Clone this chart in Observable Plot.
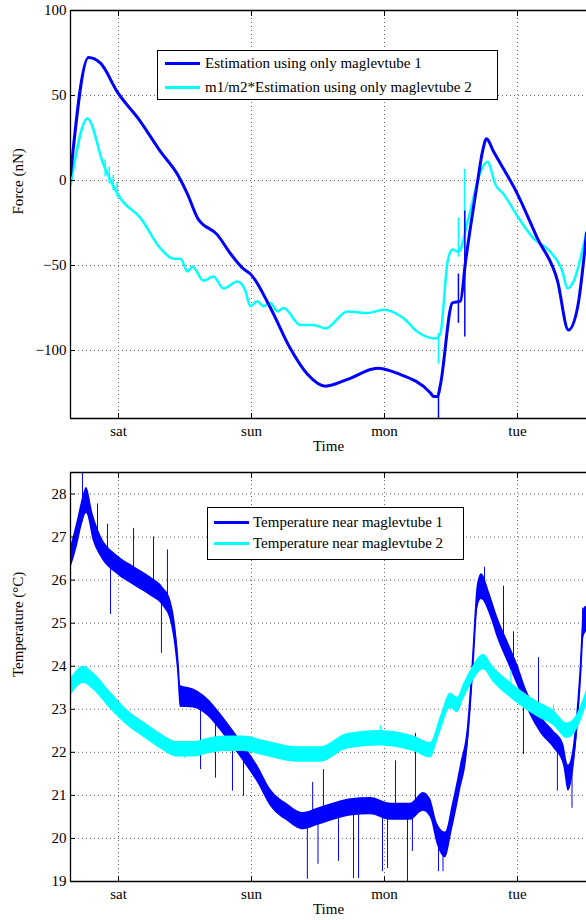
<!DOCTYPE html>
<html><head><meta charset="utf-8">
<script src="https://cdn.jsdelivr.net/npm/d3@7"></script>
<script src="https://cdn.jsdelivr.net/npm/@observablehq/plot@0.6"></script>
<style>
body{margin:0;background:#fff;}
#wrap{position:relative;width:586px;height:920px;font-family:"Liberation Serif","Times New Roman",serif;overflow:hidden;}
#wrap svg{display:block;}
.legend{position:absolute;background:#fff;border:1px solid #000;box-sizing:border-box;}
.legend .sw{position:absolute;height:3px;}
.legend .lab{position:absolute;font-size:15px;white-space:nowrap;line-height:20px;color:#000;}
</style></head><body><div id="wrap"></div><script>
// ---------- data ----------
const dayTicks = [1, 2, 3, 4];
const dayLabels = ["sat", "sun", "mon", "tue"];
const xDomain = [0.639, 4.519];

const forceTicks = [-100, -50, 0, 50, 100];
const forceDomain = [-140, 100];
const tempTicks = [19, 20, 21, 22, 23, 24, 25, 26, 27, 28];
const tempDomain = [19, 28.5];

const forceSeries = ["Estimation using only maglevtube 1", "m1/m2*Estimation using only maglevtube 2"];
const tempSeries = ["Temperature near maglevtube 1", "Temperature near maglevtube 2"];

// force, maglevtube 1 (blue)
const forceDays1 = [0.639,0.774,0.865,0.992,1.165,1.316,1.444,1.519,1.594,1.744,1.842,1.940,1.992,2.143,2.293,2.421,2.556,2.722,2.947,3.098,3.346,3.368,3.40,3.421,3.511,3.571,3.609,3.699,3.737,3.767,3.820,4.0,4.150,4.301,4.383,4.451,4.519];
const force1 = [3,72.4,69,52,34.7,17,3.5,-8,-22,-32,-43,-52,-55,-75,-99,-114,-121,-117,-110.5,-113.5,-125,-127,-127,-120,-72,-71,-48,-1,17,24.5,17,-8,-34,-59,-88,-75,-31];
const forceSpikeDays1 = [3.406, 3.556, 3.604];
const forceSpikeLo1 = [-140, -84, -92];
const forceSpikeHi1 = [-125, -55, -18];

// force, maglevtube 2 (cyan)
const forceDays2 = [0.639,0.767,0.887,1.015,1.165,1.316,1.414,1.466,1.519,1.556,1.639,1.714,1.789,1.895,1.955,1.99,2.045,2.090,2.143,2.195,2.241,2.368,2.466,2.556,2.722,2.872,2.992,3.143,3.248,3.383,3.42,3.474,3.511,3.556,3.632,3.722,3.774,3.835,3.895,4.0,4.120,4.248,4.338,4.376,4.421,4.519];
const force2 = [-3,36.5,9.4,-10.6,-22,-40,-46,-46,-53.5,-50.6,-59,-56.5,-63.5,-59.4,-65,-74,-71,-74,-72,-77,-75,-85,-85,-87,-77,-78,-76,-81,-89,-93,-90,-48,-40.6,-42,-22,5,11,-2.5,-8,-21,-34,-42,-53.5,-63.5,-59.4,-30];
const forceSpikeDays2 = [0.90, 0.93, 0.96, 0.99, 3.406, 3.556, 3.602];
const forceSpikeLo2 = [2, -2, -6, -10, -108, -45, -40];
const forceSpikeHi2 = [12, 8, 3, -1, -90, -22, 6.5];

// temperature near maglevtube 1 (blue)
const tempDays1 = [0.639,0.692,0.729,0.759,0.812,0.865,0.992,1.113,1.241,1.338,1.391,1.444,1.466,1.564,1.669,1.767,1.865,1.970,2.045,2.143,2.271,2.391,2.496,2.594,2.744,2.895,3.045,3.195,3.293,3.346,3.398,3.459,3.511,3.571,3.624,3.662,3.699,3.729,3.797,3.850,3.925,4.0,4.075,4.173,4.271,4.346,4.383,4.421,4.474,4.496,4.519];
const temp1 = [26.5,27.1,27.6,27.85,27.2,26.8,26.35,26.1,25.85,25.6,25.3,24.2,23.3,23.25,23.05,22.7,22.3,21.85,21.5,20.95,20.6,20.4,20.5,20.6,20.72,20.75,20.62,20.62,20.85,20.7,20.1,19.85,20.5,21.4,22.3,23.9,25.6,25.85,25.4,24.9,24.35,23.8,23.2,22.65,22.3,21.95,21.4,21.85,23.8,24.97,25.1];
const temp1Spread = [0.25,0.3,0.3,0.3,0.3,0.25,0.22,0.22,0.22,0.22,0.25,0.3,0.25,0.22,0.2,0.2,0.2,0.2,0.2,0.2,0.2,0.2,0.2,0.2,0.2,0.2,0.2,0.2,0.22,0.22,0.25,0.3,0.3,0.3,0.3,0.3,0.3,0.3,0.25,0.25,0.25,0.25,0.2,0.2,0.2,0.25,0.3,0.3,0.3,0.35,0.3];
const tempSpikeDays1 = [0.639,0.729,0.842,0.917,0.94,1.113,1.263,1.323,1.368,1.617,1.729,1.857,1.94,2.42,2.46,2.5,2.541,2.654,2.767,2.805,2.985,3.023,3.083,3.173,3.21,3.233,3.406,3.44,3.752,3.895,3.97,4.045,4.158,4.30,4.41,4.49];
const tempSpikeLo1 = [25.4,27.6,27.0,26.6,25.2,26.1,25.85,24.3,25.5,21.6,21.4,21.1,20.98,19.05,20.4,19.4,20.5,19.47,19.07,19.07,19.23,19.3,20.6,19.0,19.7,20.8,19.23,19.23,25.8,24.4,24.0,21.95,22.6,21.1,20.7,24.8];
const tempSpikeHi1 = [26.5,28.5,27.77,27.3,26.5,27.2,27.0,25.6,26.7,23.1,22.8,22.3,22.0,20.4,21.3,20.5,21.6,20.65,20.7,20.7,20.65,20.6,21.8,20.6,20.6,22.44,20.1,19.9,26.3,25.86,24.8,23.4,24.2,22.2,21.7,25.35];

// temperature near maglevtube 2 (cyan)
const tempDays2 = [0.639,0.737,0.812,0.940,1.068,1.188,1.316,1.444,1.564,1.692,1.820,1.940,2.090,2.346,2.519,2.722,2.970,3.218,3.346,3.421,3.496,3.549,3.594,3.647,3.744,3.820,3.925,4.023,4.150,4.271,4.376,4.451,4.519];
const temp2 = [23.5,23.8,23.65,23.2,22.8,22.53,22.26,22.07,22.07,22.16,22.2,22.2,22.1,21.95,21.95,22.26,22.33,22.2,22.05,22.65,23.2,23.1,23.4,23.72,24.1,23.8,23.5,23.26,23.0,22.8,22.5,22.72,23.26];
const temp2Spread = [0.2,0.2,0.2,0.2,0.18,0.18,0.18,0.18,0.18,0.18,0.18,0.18,0.18,0.18,0.18,0.18,0.18,0.18,0.18,0.18,0.18,0.18,0.18,0.18,0.18,0.18,0.18,0.18,0.18,0.18,0.18,0.18,0.18];
const tempSpikeDays2 = [1.50, 2.97, 3.95, 4.27];
const tempSpikeLo2 = [21.85, 22.2, 23.3, 22.7];
const tempSpikeHi2 = [22.2, 22.62, 23.9, 23.1];

// ---------- helpers ----------
const BLUE = "#0000ff", CYAN = "#00ffff";
const FONT = '"Liberation Serif", "Times New Roman", serif';
const rows = (xs, ys, ss) => xs.map((d, i) => ({d, v: ys[i], s: ss ? ss[i] : 0}));
const spikes = (xs, lo, hi) => xs.map((d, i) => ({d, lo: lo[i], hi: hi[i]}));
const fmtNum = v => v < 0 ? "\u2212" + Math.abs(v) : String(v);

function panel({yDomain, yTicks, yLabel, marks, height, marginTop, marginBottom}) {
  return Plot.plot({
    width: 586, height, marginTop, marginBottom, marginLeft: 70, marginRight: 0,
    style: {fontFamily: FONT, fontSize: "15px", background: "#fff", color: "#000"},
    x: {domain: xDomain},
    y: {domain: yDomain},
    marks: [
      Plot.gridX(dayTicks, {stroke: "#666", strokeOpacity: 1, strokeDasharray: "1,3"}),
      Plot.gridY(yTicks, {stroke: "#666", strokeOpacity: 1, strokeDasharray: "1,3"}),
      ...marks,
      Plot.ruleX([xDomain[0]], {stroke: "#000", strokeWidth: 1.3}),
      Plot.ruleY(yDomain, {stroke: "#000", strokeWidth: 1.3}),
      Plot.axisX(dayTicks, {anchor: "bottom", tickSize: -5, tickPadding: 12, tickFormat: d => dayLabels[dayTicks.indexOf(d)], label: null}),
      Plot.axisX(dayTicks, {anchor: "top", tickSize: -5, tickFormat: () => "", label: null}),
      Plot.axisY(yTicks, {anchor: "left", tickSize: -5, tickPadding: 9, tickFormat: fmtNum, label: null}),
      Plot.text([yLabel], {text: d => d, frameAnchor: "left", dx: -52, rotate: -90}),
      Plot.text(["Time"], {text: d => d, frameAnchor: "bottom", dy: 32})
    ]
  });
}

const f1 = rows(forceDays1, force1), f2 = rows(forceDays2, force2);
const t1 = rows(tempDays1, temp1, temp1Spread), t2 = rows(tempDays2, temp2, temp2Spread);
const CURVE = "monotone-x";

const forceChart = panel({
  yDomain: forceDomain, yTicks: forceTicks, yLabel: "Force (nN)",
  height: 460, marginTop: 10, marginBottom: 42,
  marks: [
    Plot.line(f2, {x: "d", y: "v", stroke: CYAN, strokeWidth: 2.5, curve: CURVE, clip: true}),
    Plot.ruleX(spikes(forceSpikeDays2, forceSpikeLo2, forceSpikeHi2), {x: "d", y1: "lo", y2: "hi", stroke: CYAN, strokeWidth: 1.5, clip: true}),
    Plot.line(f1, {x: "d", y: "v", stroke: BLUE, strokeWidth: 3, curve: CURVE, clip: true}),
    Plot.ruleX(spikes(forceSpikeDays1, forceSpikeLo1, forceSpikeHi1), {x: "d", y1: "lo", y2: "hi", stroke: BLUE, strokeWidth: 1.5, clip: true})
  ]
});

const tempChart = panel({
  yDomain: tempDomain, yTicks: tempTicks, yLabel: "Temperature (\u00b0C)",
  height: 460, marginTop: 12, marginBottom: 39,
  marks: [
    Plot.areaY(t1, {x: "d", y1: d => d.v - d.s, y2: d => d.v + d.s, fill: BLUE, curve: CURVE, clip: true}),
    Plot.line(t1, {x: "d", y: "v", stroke: BLUE, strokeWidth: 1.5, curve: CURVE, clip: true}),
    Plot.ruleX(spikes(tempSpikeDays1, tempSpikeLo1, tempSpikeHi1), {x: "d", y1: "lo", y2: "hi", stroke: BLUE, strokeWidth: 1, clip: true}),
    Plot.areaY(t2, {x: "d", y1: d => d.v - d.s, y2: d => d.v + d.s, fill: CYAN, curve: CURVE, clip: true}),
    Plot.line(t2, {x: "d", y: "v", stroke: CYAN, strokeWidth: 1.5, curve: CURVE, clip: true}),
    Plot.ruleX(spikes(tempSpikeDays2, tempSpikeLo2, tempSpikeHi2), {x: "d", y1: "lo", y2: "hi", stroke: CYAN, strokeWidth: 1, clip: true})
  ]
});

const wrap = document.getElementById("wrap");
wrap.appendChild(forceChart);
wrap.appendChild(tempChart);

function legend({left, topPx, width, height, rowYs, swLeft, swWidth, labLeft, names, colors}) {
  const box = document.createElement("div");
  box.className = "legend";
  Object.assign(box.style, {left: left + "px", top: topPx + "px", width: width + "px", height: height + "px"});
  names.forEach((name, i) => {
    const sw = document.createElement("div");
    sw.className = "sw";
    Object.assign(sw.style, {left: swLeft + "px", width: swWidth + "px", top: (rowYs[i] - 1.5) + "px", background: colors[i]});
    const lab = document.createElement("div");
    lab.className = "lab";
    lab.textContent = name;
    Object.assign(lab.style, {left: labLeft + "px", top: (rowYs[i] - 10) + "px"});
    box.appendChild(sw); box.appendChild(lab);
  });
  wrap.appendChild(box);
}
legend({left: 157, topPx: 50, width: 341, height: 50, rowYs: [12, 36], swLeft: 7, swWidth: 35, labLeft: 47, names: forceSeries, colors: [BLUE, CYAN]});
legend({left: 207, topPx: 507, width: 257, height: 53, rowYs: [14, 35], swLeft: 6, swWidth: 35, labLeft: 45, names: tempSeries, colors: [BLUE, CYAN]});
</script></body></html>
